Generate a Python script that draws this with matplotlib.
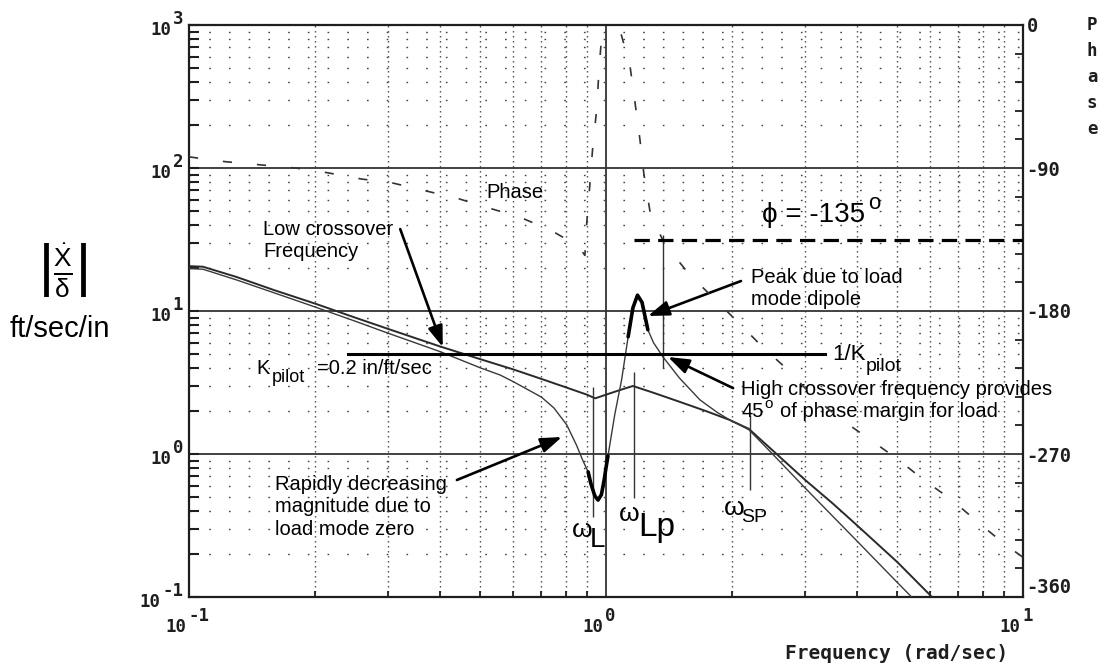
import matplotlib
matplotlib.use("Agg")
import numpy as np
import matplotlib.pyplot as plt
import matplotlib.transforms as mtransforms
from matplotlib.ticker import LogLocator, MultipleLocator, NullFormatter

# ---------------- data ----------------
# magnitude, upper curve
mag_a_freq = [0.1, 0.108, 0.13, 0.16, 0.2, 0.25, 0.3, 0.4, 0.5, 0.6, 0.7, 0.8, 0.9,
              0.942, 1.0, 1.08, 1.16, 1.3, 1.5, 1.75, 1.98, 2.2, 2.5, 3.0, 3.5,
              4.0, 5.0, 6.05]
mag_a = [20.6, 20.4, 17.3, 14.0, 11.3, 9.0, 7.5, 5.65, 4.6, 3.9, 3.35, 2.93, 2.6,
         2.45, 2.6, 2.8, 2.99, 2.68, 2.32, 1.98, 1.73, 1.5, 1.07, 0.66, 0.45,
         0.317, 0.175, 0.1]

# magnitude with load mode zero / dipole
mag_b_freq = [0.1, 0.108, 0.13, 0.16, 0.2, 0.25, 0.3, 0.4, 0.5, 0.557, 0.6, 0.7,
              0.75, 0.805, 0.85, 0.88, 0.906, 0.92, 0.94, 0.957, 0.975, 0.99, 1.0,
              1.011, 1.05, 1.09, 1.13, 1.16, 1.19, 1.22, 1.26, 1.3, 1.37, 1.5,
              1.68, 1.85, 1.98, 2.2, 2.5, 3.0, 4.0, 5.0, 5.5]
mag_b = [19.8, 19.6, 16.5, 13.4, 10.7, 8.5, 7.0, 5.2, 4.0, 3.57, 3.2, 2.5,
         2.1, 1.6, 1.15, 0.9, 0.75, 0.62, 0.51, 0.476, 0.52, 0.66, 0.8,
         0.97, 1.9, 3.3, 6.6, 10.5, 12.9, 11.5, 7.4, 6.0, 4.77, 3.4,
         2.39, 1.95, 1.73, 1.48, 1.01, 0.58, 0.246, 0.126, 0.095]

# phase (deg), two branches (the curve leaves the top of the chart near 1 rad/s)
phase1_freq = [0.1, 0.122, 0.148, 0.18, 0.215, 0.26, 0.303, 0.364, 0.439, 0.521,
               0.622, 0.735, 0.857, 0.89, 0.90, 0.915, 0.93, 0.951, 0.962, 0.978, 0.99]
phase1 = [-83, -86, -88, -90, -93, -97, -99, -104, -109, -115,
          -121, -129, -139, -145, -123, -100, -76, -52, -28, -5, 15]
phase2_freq = [1.04, 1.08, 1.142, 1.174, 1.206, 1.233, 1.28, 1.385, 1.573, 1.796,
               2.073, 2.38, 2.73, 3.14, 3.7, 4.3, 4.99, 5.76, 6.76, 7.8, 9.06, 10.0]
phase2 = [15, -3, -26, -49, -72, -94, -120, -138, -156, -171,
          -187, -203, -217, -234, -249, -261, -273, -286, -299, -313, -327, -335]

k_pilot = 0.2                      # in/ft/sec
kpilot_span = [0.24, 3.35]         # extent of the 1/Kpilot line
phase_margin_level = -135
phase_margin_span = [1.17, 10.0]

dip_range = (0.906, 1.011)         # emphasised part of the notch
peak_range = (1.13, 1.26)          # emphasised part of the peak

marker_freqs = [0.931, 1.167, 1.37, 2.21]          # wL, wLp, crossover, wSP
marker_top = [2.94, 3.74, 34.0, 1.87]
marker_bottom = [0.363, 0.49, 4.0, 0.56]

x_ticks = [0.1, 1.0, 10.0]
x_exps = ["-1", "0", "1"]
mag_ticks = [0.1, 1.0, 10.0, 100.0, 1000.0]
mag_exps = ["-1", "0", "1", "2", "3"]
phase_ticks = [0, -90, -180, -270, -360]
phase_labels = ["0", "-90", "-180", "-270", "-360"]

# ---------------- figure ----------------
plt.rcParams["mathtext.fontset"] = "custom"
plt.rcParams["mathtext.rm"] = "Liberation Sans"
plt.rcParams["mathtext.it"] = "Liberation Sans:italic"
plt.rcParams["mathtext.bf"] = "Liberation Sans:bold"

W, H = 1104, 670
fig = plt.figure(figsize=(W / 100, H / 100), dpi=100)
fig.patch.set_facecolor("white")
L, R, T, B = 189, 1023, 25, 597
ax = fig.add_axes([L / W, 1 - B / H, (R - L) / W, (B - T) / H])
ax.set_xscale("log")
ax.set_yscale("log")
ax.set_xlim(0.1, 10)
ax.set_ylim(0.1, 1000)

SANS = ["Liberation Sans", "DejaVu Sans"]
MONO = "DejaVu Sans Mono"
INK = "#1e1e1e"


def axf(px, py):
    return ((px - L) / (R - L), (B - py) / (B - T))


def figf(px, py):
    return (px / W, 1 - py / H)


# grids
ax.xaxis.set_minor_locator(LogLocator(base=10, subs=np.arange(2, 10)))
ax.yaxis.set_minor_locator(LogLocator(base=10, subs=np.arange(2, 10)))
ax.xaxis.set_minor_formatter(NullFormatter())
ax.yaxis.set_minor_formatter(NullFormatter())
ax.grid(which="major", axis="both", color="#333333", lw=1.3, ls="-")
ax.grid(which="minor", axis="x", color="#444444", lw=1.0, ls=(0, (1, 2.6)))
ax.grid(which="minor", axis="y", color="#444444", lw=1.0, ls=(0, (1.2, 13)))
ax.set_axisbelow(True)

for sp in ax.spines.values():
    sp.set_linewidth(1.6)
    sp.set_color(INK)

ax.tick_params(which="both", direction="in", top=False, right=False,
               labelleft=False, labelbottom=False, color=INK)
ax.tick_params(axis="y", which="both", length=7, width=1.5)
ax.tick_params(axis="x", which="minor", length=4, width=1.3)
ax.tick_params(axis="x", which="major", length=0)

# custom "10^n" tick labels in a bold monospace face
blend_x = mtransforms.blended_transform_factory(ax.transData, ax.transAxes)
blend_y = mtransforms.blended_transform_factory(ax.transAxes, ax.transData)
tick_fs = 12.5
charw = 0.602 * tick_fs  # points
for t, e in zip(x_ticks, x_exps):
    ax.annotate("10", xy=(t, 0), xycoords=blend_x, xytext=(-2.2, -25.2),
                textcoords="offset points", ha="right", va="baseline",
                family=MONO, weight="bold", fontsize=tick_fs, color=INK,
                annotation_clip=False)
    ax.annotate(e, xy=(t, 0), xycoords=blend_x, xytext=(-0.7, -17.3),
                textcoords="offset points", ha="left", va="baseline",
                family=MONO, weight="bold", fontsize=tick_fs, color=INK,
                annotation_clip=False)
for t, e in zip(mag_ticks, mag_exps):
    ax.annotate(e, xy=(0, t), xycoords=blend_y, xytext=(-4.3, 0.4),
                textcoords="offset points", ha="right", va="baseline",
                family=MONO, weight="bold", fontsize=tick_fs, color=INK,
                annotation_clip=False)
    ax.annotate("10", xy=(0, t), xycoords=blend_y,
                xytext=(-4.3 - len(e) * charw - 1.0, -7.5),
                textcoords="offset points", ha="right", va="baseline",
                family=MONO, weight="bold", fontsize=tick_fs, color=INK,
                annotation_clip=False)

# ---------------- magnitude curves ----------------
fa, ma = np.array(mag_a_freq), np.array(mag_a)
fb, mb = np.array(mag_b_freq), np.array(mag_b)
ax.plot(fa, ma, color="#2a2a2a", lw=1.4, zorder=3)
ax.plot(fb, mb, color="#3a3a3a", lw=1.0, zorder=3)
dip = (fb >= dip_range[0]) & (fb <= dip_range[1])
peak = (fb >= peak_range[0]) & (fb <= peak_range[1])
ax.plot(fb[dip], mb[dip], color="black", lw=2.6, zorder=4, solid_capstyle="round")
ax.plot(fb[peak], mb[peak], color="black", lw=2.6, zorder=4, solid_capstyle="round")

# 1/Kpilot line
ax.plot(kpilot_span, [1 / k_pilot, 1 / k_pilot], color="black", lw=2.2, zorder=4)

# marker lines
ax.vlines(marker_freqs, marker_bottom, marker_top, color="#333333", lw=1.0, zorder=3)

# ---------------- phase axis ----------------
ax2 = ax.twinx()
ax2.set_ylim(-360, 0)
ax2.xaxis.set_visible(False)
ax2.set_yticks(phase_ticks)
ax2.set_yticklabels(phase_labels, family=MONO, weight="bold", fontsize=13.5, color=INK)
ax2.yaxis.set_minor_locator(MultipleLocator(18))
ax2.tick_params(axis="y", which="major", direction="in", length=0, pad=2.5)
ax2.tick_params(axis="y", which="minor", direction="in", length=6, width=1.3, color=INK)
ax2.get_yticklabels()[-1].set_verticalalignment("bottom")
for sp in ax2.spines.values():
    sp.set_visible(False)

dash = (0, (5.5, 15))
ax2.plot(phase1_freq, phase1, color="#333333", lw=1.2, ls=dash)
ax2.plot(phase2_freq, phase2, color="#333333", lw=1.2, ls=dash)
ax2.plot(phase_margin_span, [phase_margin_level] * 2, color="black", lw=2.3,
         ls=(0, (4.8, 2.6)))

# ---------------- annotations ----------------
tfs = 14.5


def txt(px, py, s, fs=tfs, **kw):
    x, y = axf(px, py)
    ax.text(x, y, s, transform=ax.transAxes, ha="left", va="baseline",
            family=SANS, fontsize=fs, color="black", zorder=6, **kw)


txt(486, 198, "Phase")
txt(263, 235, "Low crossover")
txt(263, 257, "Frequency")
txt(751, 283, "Peak due to load")
txt(751, 305, "mode dipole")
txt(741, 395, "High crossover frequency provides")
txt(741, 417, "45")
txt(764, 408, "o", fs=11)
txt(780, 417, "of phase margin for load")
txt(832, 360, "1/K", fs=16)
txt(866, 371, "pilot", fs=14)
txt(256, 374, "K")
txt(272, 382, "pilot", fs=13)
txt(317, 374, "=0.2 in/ft/sec")
txt(275, 490, "Rapidly decreasing")
txt(275, 512, "magnitude due to")
txt(275, 535, "load mode zero")
txt(762, 222, "\u03d5 = -135", fs=20)
txt(868, 209, "o", fs=16)
txt(572, 537, "\u03c9", fs=19)
txt(590, 547, "L", fs=20)
txt(619, 521, "\u03c9", fs=19)
txt(638, 536, "Lp", fs=24)
txt(724, 515, "\u03c9", fs=19)
txt(741, 522, "SP", fs=14)

arrow = dict(arrowstyle="-|>,head_length=0.85,head_width=0.3", color="black",
             lw=1.9, mutation_scale=15, shrinkA=0, shrinkB=0)
ax.annotate("", xy=(0.406, 5.6), xytext=(0.321, 37.4), arrowprops=arrow, zorder=6)
ax.annotate("", xy=(1.261, 9.23), xytext=(2.107, 16.2), arrowprops=arrow, zorder=6)
ax.annotate("", xy=(1.408, 4.77), xytext=(2.017, 2.89), arrowprops=arrow, zorder=6)
ax.annotate("", xy=(0.784, 1.315), xytext=(0.439, 0.658), arrowprops=arrow, zorder=6)

# ---------------- outer labels ----------------
x, y = figf(63, 270)
fig.text(x, y, r"$\left|\frac{\dot{\mathrm{X}}}{\mathrm{\delta}}\right|$",
         ha="center", va="center", fontsize=27, color="black")
x, y = figf(10, 337)
fig.text(x, y, "ft/sec/in", ha="left", va="baseline", family=SANS, fontsize=21)
x, y = figf(897, 659)
fig.text(x, y, "Frequency (rad/sec)", ha="center", va="baseline", family=MONO,
         weight="bold", fontsize=14, color=INK)
for i, ch in enumerate("Phase"):
    x, y = figf(1087, 30 + 26 * i)
    fig.text(x, y, ch, ha="left", va="baseline", family=MONO, weight="bold",
             fontsize=12.5, color=INK)

fig.savefig("out.png", dpi=100, facecolor=fig.get_facecolor())
